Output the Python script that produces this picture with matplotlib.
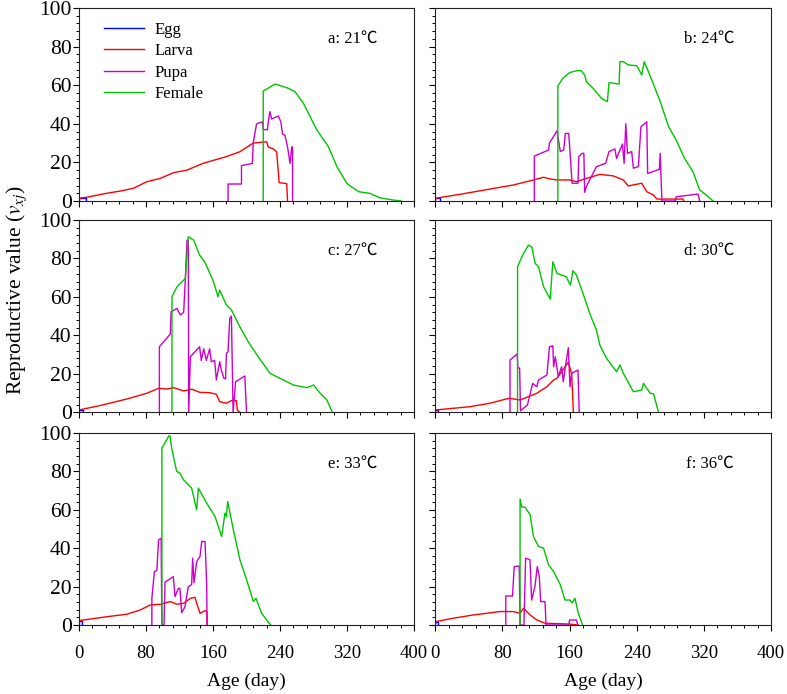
import matplotlib
matplotlib.use("Agg")

import matplotlib.pyplot as plt
from matplotlib.ticker import MultipleLocator


# Panel titles
PANEL_LABELS = ["a: 21℃", "b: 24℃", "c: 27℃", "d: 30℃", "e: 33℃", "f: 36℃"]
STAGE_NAMES = ["Egg", "Larva", "Pupa", "Female"]
STAGE_COLORS = ["#0000ff", "#ff0000", "#cc00cc", "#00c400"]

X_TICKS = [0, 80, 160, 240, 320, 400]
Y_TICKS = [0, 20, 40, 60, 80, 100]

# ---- a: 21 C ----
A_EGG_DAY = [0, 0, 8, 8]
A_EGG_VAL = [0, 1.4, 1.4, 0]
A_LARVA_DAY = [0, 10, 33, 50, 65, 81, 97, 113, 129, 148, 176, 192, 208,
               224, 226, 232, 236, 238, 239, 248, 249]
A_LARVA_VAL = [1.4, 2, 4, 5.2, 6.6, 10, 11.7, 14.7, 16, 19.5, 23, 25.5, 30,
               30.7, 28, 27, 25.5, 15, 9.5, 9, 0]
A_PUPA_DAY = [178, 178, 194, 194, 207, 208, 212, 219, 220, 225, 226, 228,
              230, 238, 241, 243, 246, 249, 249, 252, 254, 255, 255]
A_PUPA_VAL = [0, 8.8, 8.8, 18.3, 19.5, 30, 40, 41, 37, 37, 41, 46.3,
              42.5, 44, 41, 34.7, 34, 28, 28, 19.5, 28, 28, 0]
A_FEMALE_DAY = [220, 220, 226, 234, 242, 250, 258, 268, 284, 298, 308, 320,
                334, 347, 359, 375, 385]
A_FEMALE_VAL = [0, 57, 58.5, 60.6, 59.6, 58.4, 56.6, 50.6, 36.8, 28, 17.8, 9,
                4.8, 4, 1.7, 0.5, 0]

# ---- b: 24 C ----
B_EGG_DAY = [0, 0, 6, 6]
B_EGG_VAL = [0, 1.7, 1.7, 0]
B_LARVA_DAY = [0, 30, 60, 93, 117, 129, 137, 145, 160, 168, 180, 196, 212,
               224, 230, 246, 252, 260, 264, 295, 296]
B_LARVA_VAL = [1.4, 3.5, 5.8, 8.3, 10.9, 12.3, 11.4, 10.9, 10.9, 10, 11.7,
               13.8, 13, 10.9, 7.8, 9.2, 4.8, 3.1, 1, 1, 0]
B_PUPA_DAY = [118, 118, 135, 136, 145, 149, 153, 155, 159, 163, 170, 171,
              175, 177, 178, 180, 192, 203, 207, 214, 216, 220, 223, 225,
              227, 229, 234, 236, 242, 245, 252, 253, 267, 268, 270, 286,
              287, 313, 315]
B_PUPA_VAL = [0, 23.3, 26.4, 30, 36.3, 25.6, 26.4, 35, 35, 9.2, 9.2, 23,
              24.7, 24.7, 4.5, 7.5, 17.8, 19.5, 25.6, 27, 22, 26.4, 29.5,
              19.5, 40, 24.7, 25.6, 17, 17.8, 38.5, 41, 14.3, 16.4, 24.7,
              0, 0, 2.2, 3.6, 0]
B_FEMALE_DAY = [146, 146, 152, 160, 168, 174, 178, 180, 188, 198, 205, 207,
                213, 219, 220, 224, 230, 240, 246, 249, 258, 268, 278, 287,
                297, 307, 315, 323, 331]
B_FEMALE_VAL = [0, 59.6, 63.6, 66.5, 67.5, 67.5, 65.3, 61.8, 58.4, 53.2,
                51.5, 61.3, 61, 60.6, 72.2, 72.2, 70.5, 70.1, 65.3, 72.2,
                62.7, 51.5, 38.5, 31.6, 22.1, 15.2, 5.7, 3.1, 0]

# ---- c: 27 C ----
C_EGG_DAY = [0, 0, 5, 5]
C_EGG_VAL = [0, 1.2, 1.2, 0]
C_LARVA_DAY = [0, 25, 57, 81, 95, 105, 113, 125, 135, 144, 156, 164, 168,
               176, 182, 188, 189, 192]
C_LARVA_VAL = [1.2, 3.5, 6.9, 9.9, 12.5, 12.1, 12.8, 11.1, 12, 10.4, 10.2,
               9.4, 5.5, 4.7, 6.1, 6.1, 1.2, 0]
C_PUPA_DAY = [96, 96, 109, 110, 117, 121, 125, 127, 129, 130.5, 131, 133,
              144, 146, 149, 152, 156, 158, 162, 164, 168, 170, 173, 175,
              176, 178, 180, 182, 184, 187, 198, 200]
C_PUPA_VAL = [0, 34.1, 40.7, 52.3, 54, 50.6, 52, 69.6, 89.5, 89.5, 0, 28.9,
              34.1, 27, 33, 27, 33, 26.3, 27, 16.8, 26.3, 22, 17.7, 17.5,
              30.6, 31.5, 48.8, 50, 0, 15.9, 18.9, 0]
C_FEMALE_DAY = [111, 111, 117, 127, 130.5, 137, 144, 150, 160, 166, 168,
                176, 182, 192, 202, 214, 228, 244, 256, 272, 280, 288, 296,
                302.5]
C_FEMALE_VAL = [0, 60.1, 65.3, 69.6, 91.3, 89.5, 81.7, 78.3, 68.7, 60.1,
                63.5, 55.8, 53.2, 44.5, 36.7, 28.9, 20.3, 16.8, 14.2, 12.8,
                14.2, 9.9, 6.4, 0]

# ---- d: 30 C ----
D_EGG_DAY = [0, 0, 3, 3]
D_EGG_VAL = [0, 1.0, 1.0, 0]
D_LARVA_DAY = [0, 41, 65, 88, 101, 121, 133, 141, 145, 152, 156, 158.5,
               162.5, 164.5]
D_LARVA_VAL = [1.2, 2.9, 4.7, 7.3, 6.4, 9.9, 13.3, 16.8, 17.7, 22, 24.6, 26,
               20, 0]
D_PUPA_DAY = [89, 89, 97.5, 98.5, 100.5, 101.5, 109.8, 116, 121, 123, 133,
              136, 140, 141, 143, 146.5, 150.5, 152.5, 155, 158.5, 160.5,
              162.5, 170, 171.5]
D_PUPA_VAL = [0, 27.2, 30.3, 23, 23, 0.8, 3.8, 15, 13.3, 16.8, 19.4, 34.1,
              34.6, 23.7, 28.9, 18.5, 23.7, 15.9, 23.7, 33.6, 13.3, 20.3,
              22, 0]
D_FEMALE_DAY = [98, 98, 105, 111, 115, 119, 123, 129, 137, 140, 145, 156,
                161, 164, 168, 176, 184, 192, 196, 204, 216, 220, 224, 236,
                246, 248, 256, 260, 266]
D_FEMALE_VAL = [0, 75.7, 82.6, 86.9, 86, 77.4, 75.7, 65.3, 58.9, 78.3, 72.2,
                70.5, 66.1, 73.6, 71.5, 61.8, 51.4, 42.8, 35, 28.1, 21.1,
                24.6, 20.3, 10.7, 11.6, 15.1, 9.9, 9.6, 0]

# ---- e: 33 C ----
E_EGG_DAY = [0, 0, 4, 4]
E_EGG_VAL = [0, 2.0, 2.0, 0]
E_LARVA_DAY = [0, 33, 57, 73, 85, 97, 109, 117, 125, 133, 138.5, 140.5,
               144.5, 150.5, 152.5, 153]
E_LARVA_VAL = [2.3, 4.3, 5.6, 7.8, 10.4, 10.8, 12.2, 10.8, 11.3, 13.9, 14.4,
               11.3, 6.1, 7.5, 7, 0]
E_PUPA_DAY = [87, 87, 90, 93, 95, 98, 99, 101.5, 102.7, 112.6, 114.6, 118.6,
              120.5, 122.6, 126.6, 130.5, 134.5, 135.7, 137.3, 140.5, 144.5,
              146.5, 150.5, 152.4, 153]
E_PUPA_VAL = [0, 13.9, 27.8, 28.5, 44.3, 45.2, 0, 0, 22.3, 25.2, 14.8, 19.1,
              19.1, 6.4, 9.6, 20, 21, 34.8, 22, 33, 35.7, 43.5, 43.5, 21.7, 0]
E_FEMALE_DAY = [99, 99, 104.7, 107.5, 108.7, 110.6, 116.6, 120.6, 124.6,
                128.6, 134.5, 140.5, 142.5, 152.4, 162.4, 170.3, 174.3, 176,
                177.5, 184.3, 192.2, 200.2, 208.2, 211.3, 218.1, 224.1, 228.9]
E_FEMALE_VAL = [0, 92.2, 96.5, 98.6, 98.3, 92.2, 80, 79.1, 75.7, 73.9, 71.3,
                60, 71.3, 63.5, 56.5, 46.1, 58.3, 56.5, 64.3, 49.6, 33.9,
                23.5, 12.2, 13.9, 6.1, 2.6, 0]

# ---- f: 36 C ----
F_EGG_DAY = [0, 0, 3, 3]
F_EGG_VAL = [0, 1.7, 1.7, 0]
F_LARVA_DAY = [0, 21, 45, 77, 93, 101, 105, 113, 121, 131, 160, 170]
F_LARVA_VAL = [1.7, 3.5, 5.2, 7, 7, 6.1, 8.7, 5.2, 2.6, 0.9, 0.5, 0]
F_PUPA_DAY = [84, 84, 92, 94, 100, 101, 105.6, 107.6, 112.8, 114.8, 118.7,
              121.5, 124, 125.5, 130.7, 132, 159, 160, 168, 170]
F_PUPA_VAL = [0, 15.1, 15.1, 30.4, 30.8, 0, 0, 34.8, 34, 13, 20, 30.4, 25,
              12.2, 12.2, 0, 0, 2.6, 2.6, 0]
F_FEMALE_DAY = [101, 101, 103, 107, 109, 113, 117, 123, 129, 135, 141, 149,
                154.5, 160.4, 163, 166.4, 170.4, 175.5]
F_FEMALE_VAL = [0, 65.6, 61.4, 61.4, 60, 57.4, 46, 40.9, 40, 31.3, 27.8,
                20.9, 13, 13, 11.5, 13.9, 6.1, 0]


PANELS = [
    [(A_EGG_DAY, A_EGG_VAL), (A_LARVA_DAY, A_LARVA_VAL),
     (A_PUPA_DAY, A_PUPA_VAL), (A_FEMALE_DAY, A_FEMALE_VAL)],
    [(B_EGG_DAY, B_EGG_VAL), (B_LARVA_DAY, B_LARVA_VAL),
     (B_PUPA_DAY, B_PUPA_VAL), (B_FEMALE_DAY, B_FEMALE_VAL)],
    [(C_EGG_DAY, C_EGG_VAL), (C_LARVA_DAY, C_LARVA_VAL),
     (C_PUPA_DAY, C_PUPA_VAL), (C_FEMALE_DAY, C_FEMALE_VAL)],
    [(D_EGG_DAY, D_EGG_VAL), (D_LARVA_DAY, D_LARVA_VAL),
     (D_PUPA_DAY, D_PUPA_VAL), (D_FEMALE_DAY, D_FEMALE_VAL)],
    [(E_EGG_DAY, E_EGG_VAL), (E_LARVA_DAY, E_LARVA_VAL),
     (E_PUPA_DAY, E_PUPA_VAL), (E_FEMALE_DAY, E_FEMALE_VAL)],
    [(F_EGG_DAY, F_EGG_VAL), (F_LARVA_DAY, F_LARVA_VAL),
     (F_PUPA_DAY, F_PUPA_VAL), (F_FEMALE_DAY, F_FEMALE_VAL)],
]

SERIF = ["Liberation Serif", "DejaVu Serif"]
DEGREE_FONT = ["Liberation Serif", "Noto Sans CJK SC", "DejaVu Sans"]

plt.rcParams["font.family"] = SERIF
plt.rcParams["mathtext.fontset"] = "stix"

W, H = 787, 694
fig = plt.figure(figsize=(W / 100, H / 100), dpi=100)

# axes boxes in pixels: left, top, right, bottom
COL_X = [(79, 414), (435.3, 771)]
ROW_Y = [(8, 201), (220, 412.3), (433, 625)]

for i, series in enumerate(PANELS):
    row, col = divmod(i, 2)
    x0, x1 = COL_X[col]
    y0, y1 = ROW_Y[row]
    ax = fig.add_axes([x0 / W, 1 - y1 / H, (x1 - x0) / W, (y1 - y0) / H])

    for (day, val), name, color in zip(series, STAGE_NAMES, STAGE_COLORS):
        ax.plot(day, val, color=color, linewidth=1.0, label=name)

    ax.set_xlim(0, 400)
    ax.set_ylim(0, 100)
    ax.set_xticks(X_TICKS)
    ax.set_yticks(Y_TICKS)
    ax.xaxis.set_minor_locator(MultipleLocator(16))
    ax.yaxis.set_minor_locator(MultipleLocator(4))
    ax.tick_params(which="major", direction="out", length=4.3, width=0.8,
                   top=False, right=False)
    ax.tick_params(which="minor", direction="out", length=2.2, width=0.7,
                   top=False, right=False)
    ax.tick_params(axis="x", labelsize=13.5, pad=10)
    ax.tick_params(axis="y", labelsize=15.5, pad=1)
    for spine in ax.spines.values():
        spine.set_linewidth(0.8)
        spine.set_color("#222222")

    if row < 2:
        ax.tick_params(labelbottom=False)
    else:
        ax.set_xlabel("Age (day)", fontsize=14, labelpad=8)
    if col == 1:
        ax.tick_params(labelleft=False)

    ax.text(0.89, 0.84, PANEL_LABELS[i], transform=ax.transAxes,
            ha="right", va="center", fontsize=12, family=DEGREE_FONT)

    if i == 0:
        ax.legend(loc="upper left", bbox_to_anchor=(0.04, 0.99), frameon=False,
                  fontsize=12, handlelength=2.4, handletextpad=0.6,
                  labelspacing=0.33, borderaxespad=0.3)

fig.text(0.021, 0.582, r"Reproductive value ($v_{xj}$)", rotation=90,
         ha="center", va="center", fontsize=15.5)

fig.savefig("out.png", dpi=100)
plt.close(fig)
